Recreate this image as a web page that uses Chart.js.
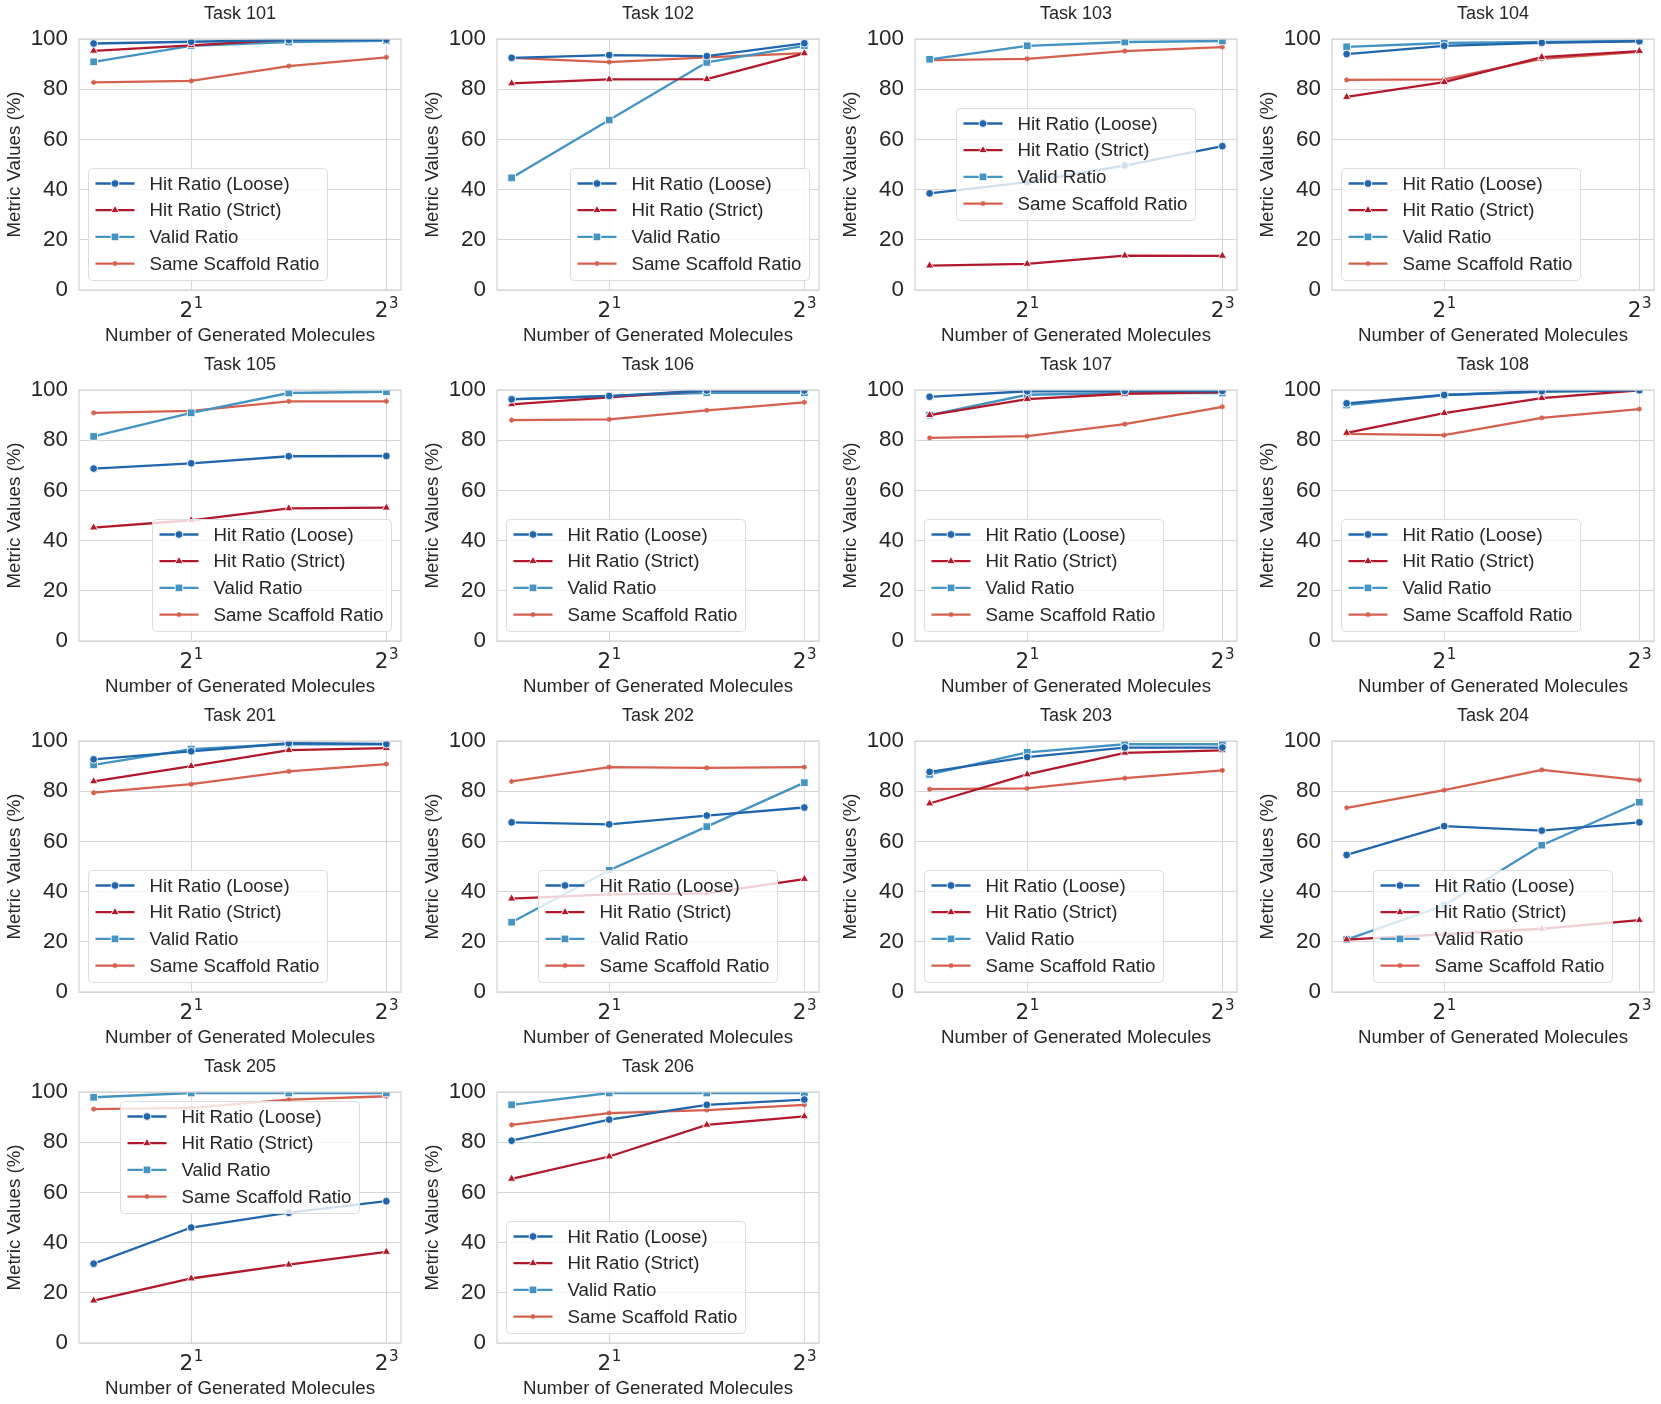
<!DOCTYPE html>
<html>
<head>
<meta charset="utf-8">
<script src="https://cdn.jsdelivr.net/npm/chart.js@4.4.1/dist/chart.umd.min.js"></script>
<style>
    body { margin: 0; background: #fff; }
    #grid { position: relative; width: 1661px; height: 1404px; }
    .cell { position: absolute; height: 351px; }
</style>
</head>
<body>
<div id="grid"></div>
<script>
// data
const tasks = ['Task 101', 'Task 102', 'Task 103', 'Task 104', 'Task 105', 'Task 106', 'Task 107',
               'Task 108', 'Task 201', 'Task 202', 'Task 203', 'Task 204', 'Task 205', 'Task 206'];
const xValues = [1, 2, 4, 8];
const xTickValues = [2, 8];
const xTickExponents = ['1', '3'];
const yTickValues = [0, 20, 40, 60, 80, 100];
const seriesNames = ['Hit Ratio (Loose)', 'Hit Ratio (Strict)', 'Valid Ratio', 'Same Scaffold Ratio'];

const hitLoose = [
    [98.2, 98.9, 99.6, 99.7], [92.5, 93.6, 93.2, 98.3], [38.5, 43.0, 49.6, 57.3], [94.0, 97.3, 98.5, 99.1],
    [68.7, 70.8, 73.6, 73.7], [96.3, 97.6, 99.8, 99.8], [97.3, 99.5, 99.6, 99.6], [94.7, 98.0, 99.5, 99.9],
    [92.7, 95.9, 99.1, 98.8], [67.6, 66.8, 70.3, 73.5], [87.7, 93.6, 97.4, 97.4], [54.6, 66.1, 64.3, 67.6],
    [31.6, 46.0, 51.9, 56.5], [80.6, 89.0, 94.9, 97.0]
];
const hitStrict = [
    [95.3, 97.5, 99.8, 99.8], [82.3, 83.9, 84.0, 94.3], [9.7, 10.4, 13.7, 13.6], [76.9, 82.8, 92.8, 95.2],
    [45.2, 48.1, 52.8, 53.1], [94.3, 97.1, 99.9, 99.9], [90.0, 96.4, 98.5, 99.2], [82.9, 90.8, 96.8, 99.9],
    [83.9, 90.0, 96.4, 97.2], [37.2, 38.9, 39.3, 45.0], [75.1, 86.7, 95.3, 96.3], [20.9, 23.0, 25.2, 28.6],
    [16.9, 25.7, 31.2, 36.3], [65.4, 74.3, 86.9, 90.3]
];
const validRatio = [
    [90.9, 97.3, 98.8, 99.3], [44.7, 67.7, 90.7, 97.3], [91.9, 97.3, 98.8, 99.2], [96.9, 98.4, 98.8, 99.2],
    [81.5, 90.9, 98.8, 99.3], [96.4, 97.6, 98.9, 98.9], [90.0, 98.1, 98.8, 98.8], [94.0, 98.0, 99.3, 99.9],
    [90.5, 96.8, 98.8, 98.7], [27.8, 48.5, 65.9, 83.4], [86.7, 95.5, 98.7, 98.7], [20.9, 34.5, 58.5, 75.6],
    [97.9, 99.6, 99.6, 99.6], [94.9, 99.6, 99.6, 99.6]
];
const sameScaffold = [
    [82.7, 83.3, 89.2, 92.7], [92.5, 90.8, 92.7, 94.4], [91.6, 92.1, 95.2, 96.8], [83.7, 83.9, 92.1, 94.9],
    [90.9, 91.7, 95.5, 95.5], [88.0, 88.3, 91.9, 95.1], [80.9, 81.6, 86.4, 93.3], [82.5, 82.0, 88.9, 92.4],
    [79.4, 82.8, 87.9, 90.8], [83.9, 89.6, 89.3, 89.6], [80.8, 81.1, 85.2, 88.3], [73.4, 80.4, 88.5, 84.4],
    [93.2, 93.7, 97.0, 98.3], [86.9, 91.6, 92.8, 94.9]
];

// where matplotlib put each legend
const legendSpots = ['lower left', 'lower right', 'center', 'lower left', 'lower right', 'lower left', 'lower left',
                     'lower left', 'lower left', 'lower center', 'lower left', 'lower center', 'upper center', 'lower left'];

const colors = ['#2166ac', '#b2182b', '#4393c3', '#d6604d'];
const markers = [
    { pointStyle: 'circle', radius: 3.9, border: '#ffffff' },
    { pointStyle: 'triangle', radius: 4.8, border: '#ffffff' },
    { pointStyle: 'rect', radius: 5.4, border: '#ffffff' },
    { pointStyle: 'star', radius: 2.6, border: null }
];
const allSeries = [hitLoose, hitStrict, validRatio, sameScaffold];

const FONT = "'Liberation Sans', Arial, sans-serif";
const MATH_FONT = "'DejaVu Sans', sans-serif";
const TEXT = '#262626';
const GRID = '#d6d6d6';
Chart.defaults.font.family = FONT;
Chart.defaults.color = TEXT;

const colLeft = [0, 418, 836, 1253];
const rowTop = [0, 351, 702, 1053];

// title, 2^n tick labels, frame and legend, placed like the matplotlib axes
const axesDecor = {
    id: 'axesDecor',
    afterDatasetsDraw(chart, args, opts) {
        const ctx = chart.ctx;
        const a = chart.chartArea;
        ctx.save();
        ctx.strokeStyle = GRID;
        ctx.lineWidth = 1.3;
        ctx.strokeRect(a.left, a.top, a.right - a.left, a.bottom - a.top);

        // subplot title centred over the axes
        ctx.fillStyle = TEXT;
        ctx.font = '18px ' + FONT;
        ctx.textAlign = 'center';
        ctx.textBaseline = 'middle';
        ctx.fillText(opts.title, (a.left + a.right) / 2, a.top - 25);

        // x tick labels as 2 with a raised exponent
        const xs = chart.scales.x;
        ctx.textBaseline = 'alphabetic';
        ctx.textAlign = 'left';
        xTickValues.forEach((v, i) => {
            const px = xs.getPixelForValue(v);
            ctx.font = '21.5px ' + MATH_FONT;
            const wBase = ctx.measureText('2').width;
            ctx.font = '15px ' + MATH_FONT;
            const wExp = ctx.measureText(xTickExponents[i]).width;
            const x0 = px - (wBase + wExp) / 2;
            ctx.font = '21.5px ' + MATH_FONT;
            ctx.fillText('2', x0, a.bottom + 27);
            ctx.font = '15px ' + MATH_FONT;
            ctx.fillText(xTickExponents[i], x0 + wBase + 0.5, a.bottom + 18);
        });

        // legend box
        ctx.font = '18.7px ' + FONT;
        let textW = 0;
        chart.data.datasets.forEach(ds => { textW = Math.max(textW, ctx.measureText(ds.label).width); });
        const w = 61 + textW + 8, h = 112, pad = 9.5;
        const spot = opts.spot;
        let x, y;
        if (spot.includes('left')) x = a.left + pad;
        else if (spot.includes('right')) x = a.right - pad - w;
        else x = (a.left + a.right - w) / 2;
        if (spot.startsWith('lower')) y = a.bottom - pad - h;
        else if (spot.startsWith('upper')) y = a.top + pad;
        else y = (a.top + a.bottom - h) / 2;

        ctx.beginPath();
        ctx.roundRect(x, y, w, h, 4);
        ctx.fillStyle = 'rgba(255,255,255,0.8)';
        ctx.fill();
        ctx.strokeStyle = '#dcdcdc';
        ctx.lineWidth = 1;
        ctx.stroke();

        chart.data.datasets.forEach((ds, i) => {
            const cy = y + 15 + i * 26.7;
            ctx.strokeStyle = ds.borderColor;
            ctx.lineWidth = ds.borderWidth;
            ctx.beginPath();
            ctx.moveTo(x + 7, cy);
            ctx.lineTo(x + 46, cy);
            ctx.stroke();
            ctx.fillStyle = ds.pointBackgroundColor;
            ctx.strokeStyle = ds.pointBorderColor;
            ctx.lineWidth = ds.pointBorderWidth;
            Chart.helpers.drawPoint(ctx, {
                pointStyle: ds.pointStyle, radius: ds.pointRadius, rotation: 0, borderWidth: ds.pointBorderWidth
            }, x + 26.5, cy);
            ctx.fillStyle = TEXT;
            ctx.textBaseline = 'middle';
            ctx.textAlign = 'left';
            ctx.fillText(ds.label, x + 61, cy + 1);
        });
        ctx.restore();
    }
};

const grid = document.getElementById('grid');

tasks.forEach((task, t) => {
    const col = t % 4, row = Math.floor(t / 4);
    const width = col === 3 ? 408 : 418;
    const cell = document.createElement('div');
    cell.className = 'cell';
    cell.style.left = colLeft[col] + 'px';
    cell.style.top = rowTop[row] + 'px';
    cell.style.width = width + 'px';
    const canvas = document.createElement('canvas');
    cell.appendChild(canvas);
    grid.appendChild(cell);

    const datasets = allSeries.map((series, s) => ({
        label: seriesNames[s],
        data: xValues.map((x, i) => ({ x: x, y: series[t][i] })),
        borderColor: colors[s],
        backgroundColor: colors[s],
        borderWidth: 2.3,
        pointStyle: markers[s].pointStyle,
        pointRadius: markers[s].radius,
        pointBackgroundColor: colors[s],
        pointBorderColor: markers[s].border || colors[s],
        pointBorderWidth: markers[s].border ? 0.9 : 1.2,
        tension: 0
    }));

    new Chart(canvas, {
        type: 'line',
        data: { datasets: datasets },
        plugins: [axesDecor],
        options: {
            responsive: true,
            maintainAspectRatio: false,
            animation: false,
            events: [],
            layout: { padding: { left: 0, right: width - 401, top: 39, bottom: 0 } },
            scales: {
                x: {
                    type: 'logarithmic',
                    min: Math.pow(2, -0.15),
                    max: Math.pow(2, 3.15),
                    afterBuildTicks: scale => { scale.ticks = xTickValues.map(v => ({ value: v })); },
                    afterFit: scale => { scale.height = 61; },
                    ticks: { display: false, autoSkip: false, maxRotation: 0 },
                    grid: { color: GRID, lineWidth: 1, drawTicks: false },
                    border: { display: false },
                    title: {
                        display: true,
                        text: 'Number of Generated Molecules',
                        font: { size: 18.7 },
                        color: TEXT,
                        padding: { top: 0, bottom: 4 }
                    }
                },
                y: {
                    min: 0,
                    max: 100,
                    afterBuildTicks: scale => { scale.ticks = yTickValues.map(v => ({ value: v })); },
                    afterFit: scale => { scale.width = 79; },
                    ticks: { padding: 11, font: { size: 22.4 }, color: TEXT },
                    grid: { color: GRID, lineWidth: 1, drawTicks: false },
                    border: { display: false },
                    title: {
                        display: true,
                        text: 'Metric Values (%)',
                        font: { size: 18.7 },
                        color: TEXT,
                        padding: { top: 4, bottom: 0 }
                    }
                }
            },
            plugins: {
                legend: { display: false },
                tooltip: { enabled: false },
                title: { display: false },
                axesDecor: { spot: legendSpots[t], title: task }
            }
        }
    });
});
</script>
</body>
</html>
